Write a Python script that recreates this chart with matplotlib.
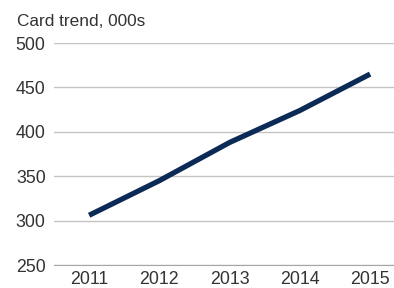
import matplotlib.pyplot as plt

# Data
years = ['2011', '2012', '2013', '2014', '2015']
cards = [306, 345, 388, 424, 465]
y_ticks = [250, 300, 350, 400, 450, 500]

plt.rcParams['font.family'] = ['Liberation Sans', 'DejaVu Sans']

fig = plt.figure(figsize=(3.94, 2.88), dpi=100)
ax = fig.add_axes([54 / 394, 1 - 265 / 288, 1 - 54 / 394, (265 - 43) / 288])

ax.plot(range(len(years)), cards, color='#0b2a55', linewidth=3.8, solid_capstyle='butt')

ax.set_ylim(250, 500)
ax.set_xlim(-0.5, 4.34)
ax.set_yticks(y_ticks)
ax.set_xticks(range(len(years)))
ax.set_xticklabels(years)

ax.grid(axis='y', color='#c4c4c4', linewidth=1)
ax.set_axisbelow(True)
for side in ['top', 'right', 'left']:
    ax.spines[side].set_visible(False)
ax.spines['bottom'].set_color('#a6a6a6')
ax.tick_params(length=0, labelsize=12.8, colors='#333333')
ax.tick_params(axis='y', pad=6)
ax.tick_params(axis='x', pad=4)

fig.text(17 / 394, 1 - 22 / 288, 'Card trend, 000s', fontsize=12.4, color='#333333', va='center', ha='left')

plt.savefig('out.png', dpi=100)
